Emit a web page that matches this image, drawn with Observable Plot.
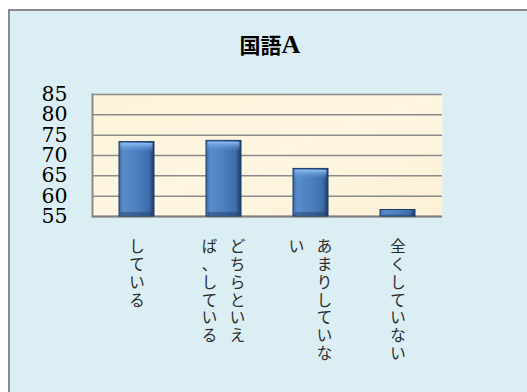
<!DOCTYPE html>
<html>
<head>
<meta charset="utf-8">
<script src="https://cdn.jsdelivr.net/npm/d3@7"></script>
<script src="https://cdn.jsdelivr.net/npm/@observablehq/plot@0.6"></script>
<style>
  html, body { margin: 0; padding: 0; background: #ffffff; }
  #card {
    position: absolute; left: 8px; top: 9px; right: 0; bottom: 0;
    border-left: 2px solid #8a8a8a; border-top: 2px solid #8a8a8a;
    background: #daeef3; overflow: hidden;
  }
  #title {
    height: 60px; box-sizing: border-box; padding-top: 23px; padding-left: 3px;
    text-align: center; line-height: 21px; font-size: 21px; font-weight: bold;
    font-family: "Noto Sans CJK JP", sans-serif; color: #000;
  }
  #title .a { font-family: "Liberation Serif", serif; font-size: 26px; }
  #chart svg { display: block; }
</style>
</head>
<body>
<div id="card">
  <div id="title"></div>
  <div id="chart"></div>
</div>
<script>
const title = "国語A";
const categories = ["している", "どちらといえば、している", "あまりしていない", "全くしていない"];
const labelColumns = [["している"], ["どちらといえ", "ば、している"], ["あまりしていな", "い"], ["全くしていない"]];
const values = [73.3, 73.6, 66.7, 56.6];
const yTicks = [55, 60, 65, 70, 75, 80, 85];

// title (last Latin letter in serif, like the original)
const t = document.getElementById("title");
t.append(document.createTextNode(title.slice(0, -1)));
const sp = document.createElement("span"); sp.className = "a"; sp.textContent = title.slice(-1); t.append(sp);

const bars = categories.map((c, i) => ({category: c, value: values[i]}));
const labelRows = [];
labelColumns.forEach((cols, i) => cols.forEach((col, j) => labelRows.push({
  category: categories[i],
  text: Array.from(col).join("\n"),
  slot: cols.length === 1 ? "single" : (j === 0 ? "right" : "left")
})));
const yMin = yTicks[0];
const labelOpts = {x: "category", text: "text", frameAnchor: "bottom", dy: 23, lineAnchor: "top",
  lineHeight: 1.15, fontSize: 15.5, fontFamily: "Noto Sans CJK JP", fill: "#2a2a2a", textAnchor: "middle"};

const chart = Plot.plot({
  width: 517, height: 321,
  marginTop: 23, marginBottom: 176, marginLeft: 82, marginRight: 85,
  style: {background: "transparent", color: "#000", fontFamily: "DejaVu Serif", fontSize: "20.5px"},
  x: {domain: categories, paddingInner: 0.6, paddingOuter: 0.3, axis: null},
  y: {domain: [yMin, yTicks[yTicks.length - 1]], ticks: yTicks, tickSize: 0, tickPadding: 25, label: null},
  marks: [
    Plot.frame({fill: "url(#plotBg)", stroke: "none"}),
    Plot.gridY(yTicks, {stroke: "#8c8c8c", strokeOpacity: 1, strokeWidth: 1.5}),
    Plot.ruleY([yMin], {stroke: "#7f7f7f", strokeWidth: 2}),
    Plot.frame({anchor: "left", stroke: "#8a8a8a", strokeWidth: 2}),
    Plot.barY(bars, {x: "category", y1: yMin, y2: "value", fill: "url(#barBody)", stroke: "#1f3b63", strokeWidth: 1}),
    Plot.barY(bars, {x: "category", y1: d => Math.max(d.value - 2.7, (d.value + yMin) / 2), y2: "value", fill: "url(#barTop)", inset: 1.5}),
    Plot.barY(bars, {x: "category", y1: yMin, y2: d => Math.min(yMin + 1.6, (d.value + yMin) / 2), fill: "url(#barBottom)", inset: 1.5}),
    Plot.text(labelRows.filter(d => d.slot === "single"), {...labelOpts, dx: 0}),
    Plot.text(labelRows.filter(d => d.slot === "right"), {...labelOpts, dx: 13.5}),
    Plot.text(labelRows.filter(d => d.slot === "left"), {...labelOpts, dx: -14.5})
  ]
});

const defs = d3.select(chart).insert("defs", ":first-child");
const lin = (id, x2, y2, stops) => {
  const g = defs.append("linearGradient").attr("id", id).attr("x1", 0).attr("y1", 0).attr("x2", x2).attr("y2", y2);
  stops.forEach(([o, c, a]) => g.append("stop").attr("offset", o).attr("stop-color", c).attr("stop-opacity", a == null ? 1 : a));
};
lin("plotBg", 1, 1, [[0, "#fdf3d9"], [0.5, "#fef6e2"], [1, "#fcf1d6"]]);
lin("barBody", 1, 0, [[0, "#3f6aa3"], [0.12, "#5a8ccb"], [0.5, "#4d7fc0"], [0.85, "#3f6daa"], [1, "#1e3a62"]]);
lin("barTop", 0, 1, [[0, "#8dbdf2"], [1, "#5a8fd1", 0.2]]);
lin("barBottom", 0, 1, [[0, "#2a4b7b", 0], [1, "#1d365c", 0.8]]);

document.getElementById("chart").append(chart);
</script>
</body>
</html>
